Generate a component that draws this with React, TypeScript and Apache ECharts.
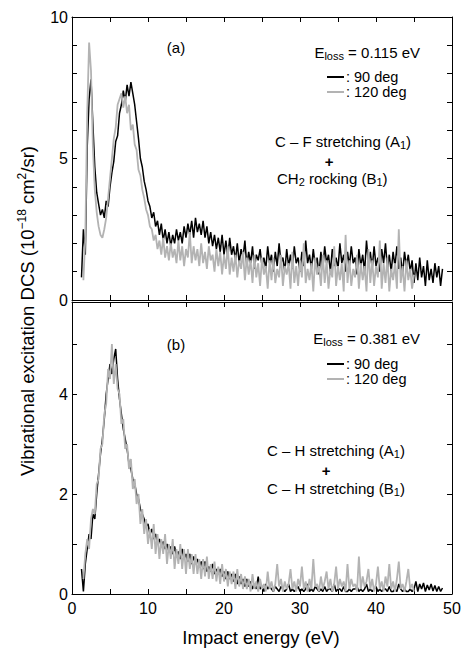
import React, { useEffect, useRef } from 'react';
import * as echarts from 'echarts';

const STEP = 0.25;
const START_90 = 1.25;
const START_120 = 1.5;

// (a) E_loss = 0.115 eV
const TOP_90 = [
  0.8, 2.5, 1.6, 5.4,
  7.1, 7.8, 6.2, 4.7,
  3.8, 3.4, 3.0, 3.2,
  2.9, 3.5, 3.3, 4.0,
  4.5, 4.9, 5.6, 5.8,
  6.6, 6.9, 7.4, 7.0,
  7.6, 7.2, 7.7, 7.3,
  6.9, 6.3, 5.7, 5.0,
  4.7, 4.2, 3.9, 3.5,
  3.3, 2.9, 3.1, 2.6,
  2.8, 2.3, 2.7, 2.1,
  2.5, 2.0, 2.4, 1.9,
  2.3, 2.0, 2.5, 2.1,
  2.4, 2.0, 2.6, 2.2,
  2.7, 2.3, 2.8, 2.2,
  2.9, 2.4, 2.7, 2.3,
  2.8, 2.2, 2.6, 2.0,
  2.4, 1.9, 2.3, 1.8,
  2.2, 1.7, 2.3, 1.6,
  2.1, 1.5, 2.2, 1.6,
  1.9, 1.4, 2.0, 1.3,
  1.8, 1.5, 2.1, 1.2,
  1.7, 1.3, 1.9, 1.1,
  1.6, 1.4, 1.8, 1.2,
  1.5, 1.1, 1.9, 1.3,
  1.6, 1.0, 1.7, 1.2,
  2.0, 1.3, 1.5, 1.0,
  1.8, 1.2, 1.6, 1.1,
  1.9, 1.3, 1.5, 1.0,
  1.7, 1.2, 2.1, 1.3,
  1.6, 1.1, 1.8, 1.2,
  1.5, 0.9, 1.7, 1.1,
  1.9, 1.3, 1.6, 1.0,
  1.8, 1.2, 1.5, 1.1,
  2.0, 1.3, 1.6, 1.0,
  1.7, 1.2, 1.9, 1.3,
  1.5, 0.9, 1.8, 1.2,
  1.6, 1.0, 2.1, 1.3,
  1.7, 1.1, 1.9, 1.2,
  1.5, 1.0, 1.8, 1.3,
  2.0, 1.1, 1.6, 1.0,
  1.7, 1.2, 1.9, 1.1,
  1.5, 0.9, 1.7, 1.2,
  1.6, 1.0, 1.4, 0.6,
  1.3, 0.7, 1.5, 0.8,
  1.2, 0.5, 1.4, 0.7,
  1.1, 0.6, 1.3, 0.8,
  1.2, 0.5, 1.1,
];

const TOP_120 = [
  0.7, 2.2, 6.6,
  9.1, 8.1, 5.4, 3.9,
  3.1, 2.6, 2.3, 2.2,
  2.5, 2.9, 3.6, 4.3,
  5.0, 5.7, 6.1, 6.9,
  7.1, 7.3, 6.8, 7.2,
  6.6, 6.9, 6.0, 6.2,
  5.5, 5.3, 4.6, 4.4,
  3.9, 3.6, 3.2, 3.0,
  2.6, 2.5, 2.1, 2.3,
  1.8, 2.1, 1.6, 2.2,
  1.5, 1.9, 1.4, 2.0,
  1.5, 1.8, 1.3, 2.1,
  1.4, 1.9, 1.2, 1.8,
  1.5, 2.4, 1.3, 1.9,
  1.4, 1.8, 1.2, 2.0,
  1.3, 1.7, 1.1, 1.9,
  1.4, 1.6, 1.0, 1.8,
  1.2, 1.7, 0.9, 1.6,
  1.1, 1.9, 0.9, 1.5,
  1.0, 1.6, 0.8, 1.4,
  1.1, 1.7, 0.7, 1.5,
  0.9, 1.4, 0.6, 1.6,
  0.8, 1.3, 0.5, 1.5,
  0.9, 1.2, 0.4, 1.4,
  0.7, 1.5, 0.6, 1.1,
  0.8, 1.6, 0.5, 1.2,
  0.9, 1.3, 0.4, 1.7,
  0.6, 1.2, 0.5, 1.4,
  0.8, 2.0, 0.6, 1.1,
  0.7, 1.3, 0.3, 1.5,
  0.9, 1.2, 0.5, 1.6,
  0.6, 1.4, 0.4, 1.1,
  0.8, 1.9, 0.5, 1.2,
  0.7, 1.3, 0.3, 2.3,
  0.6, 1.4, 0.5, 1.1,
  0.8, 1.6, 0.4, 1.3,
  0.7, 1.2, 0.3, 1.8,
  0.6, 1.4, 0.5, 1.2,
  0.8, 2.1, 0.4, 1.3,
  0.6, 1.5, 0.3, 1.1,
  0.7, 1.3, 0.4, 2.5,
  0.6, 1.2, 0.3, 1.4,
  0.7, 1.1, 0.4, 0.9,
];

// (b) E_loss = 0.381 eV
const BOT_90 = [
  0.5, 0.05, 0.6, 0.9,
  1.2, 1.1, 1.6, 1.5,
  2.0, 2.4, 2.8, 3.1,
  3.5, 4.0, 4.3, 4.6,
  4.4, 4.7, 4.9, 4.3,
  3.9, 3.6, 3.3, 3.1,
  2.9, 2.6, 2.5, 2.3,
  2.2, 2.0, 1.9, 1.7,
  1.6, 1.5, 1.35, 1.4,
  1.2, 1.3, 1.1, 1.2,
  1.0, 1.1, 0.95, 1.05,
  0.9, 1.0, 0.85, 0.95,
  0.8, 0.95, 0.75, 0.85,
  0.7, 0.9, 0.7, 0.8,
  0.65, 0.8, 0.6, 0.75,
  0.6, 0.7, 0.55, 0.65,
  0.5, 0.65, 0.45, 0.55,
  0.45, 0.6, 0.4, 0.5,
  0.4, 0.5, 0.35, 0.45,
  0.3, 0.45, 0.3, 0.4,
  0.25, 0.4, 0.2, 0.35,
  0.2, 0.3, 0.15, 0.3,
  0.15, 0.25, 0.1, 0.2,
  0.1, 0.35, 0.1, 0.15,
  0.05, 0.2, 0.1, 0.15,
  0.1, 0.05, 0.15, 0.1,
  0.05, 0.15, 0.1, 0.05,
  0.1, 0.2, 0.05, 0.1,
  0.05, 0.1, 0.15, 0.05,
  0.1, 0.05, 0.1, 0.2,
  0.05, 0.1, 0.05, 0.15,
  0.1, 0.05, 0.1, 0.05,
  0.15, 0.05, 0.1, 0.1,
  0.05, 0.2, 0.05, 0.1,
  0.1, 0.05, 0.15, 0.05,
  0.05, 0.1, 0.05, 0.1,
  0.1, 0.15, 0.05, 0.1,
  0.05, 0.1, 0.2, 0.05,
  0.1, 0.05, 0.1, 0.15,
  0.05, 0.1, 0.05, 0.1,
  0.1, 0.05, 0.15, 0.05,
  0.05, 0.1, 0.05, 0.2,
  0.1, 0.05, 0.1, 0.05,
  0.05, 0.1, 0.05, 0.1,
  0.25, 0.05, 0.2, 0.1,
  0.22, 0.05, 0.18, 0.08,
  0.2, 0.06, 0.17, 0.05,
  0.15, 0.05, 0.12,
];

const BOT_120 = [
  0.3, 0.8, 1.1,
  0.9, 1.5, 1.7, 1.6,
  2.2, 2.3, 2.9, 3.0,
  3.6, 3.8, 4.5, 4.3,
  5.0, 4.2, 4.6, 4.1,
  4.0, 3.4, 3.5, 2.9,
  3.0, 2.5, 2.7, 2.1,
  2.3, 1.8, 2.0, 1.4,
  1.7, 1.2, 1.5, 1.0,
  1.3, 0.9, 1.4, 0.8,
  1.2, 0.7, 1.1, 0.8,
  1.2, 0.6, 1.0, 0.7,
  1.1, 0.5, 0.9, 0.6,
  1.0, 0.5, 0.9, 0.4,
  0.9, 0.5, 0.8, 0.4,
  0.8, 0.4, 0.7, 0.3,
  0.7, 0.35, 0.75, 0.3,
  0.6, 0.3, 0.65, 0.25,
  0.55, 0.2, 0.6, 0.25,
  0.5, 0.15, 0.45, 0.2,
  0.45, 0.1, 0.5, 0.15,
  0.4, 0.1, 0.35, 0.1,
  0.3, 0.05, 0.4, 0.1,
  0.25, 0.05, 0.3, 0.1,
  0.2, 0.05, 0.45, 0.1,
  0.25, 0.05, 0.2, 0.6,
  0.15, 0.3, 0.05, 0.25,
  0.1, 0.2, 0.5, 0.1,
  0.25, 0.05, 0.3, 0.15,
  0.55, 0.1, 0.25, 0.05,
  0.3, 0.1, 0.7, 0.15,
  0.2, 0.05, 0.35, 0.1,
  0.25, 0.45, 0.1, 0.3,
  0.05, 0.2, 0.55, 0.1,
  0.3, 0.15, 0.25, 0.05,
  0.6, 0.1, 0.3, 0.15,
  0.2, 0.05, 0.75, 0.1,
  0.35, 0.15, 0.25, 0.5,
  0.1, 0.3, 0.05, 0.2,
  0.55, 0.1, 0.25, 0.05,
  0.35, 0.15, 0.6, 0.1,
  0.25, 0.05, 0.3, 0.65,
  0.1, 0.2, 0.05, 0.25,
  0.5, 0.1, 0.2, 0.05,
];

const X_MIN = 0;
const X_MAX = 50;
const TOP_Y_MAX = 10;
const BOT_Y_MAX = 5.84;

const FONT = 'Liberation Sans, Arial, Helvetica, sans-serif';
const BLACK = '#000000';
const GRAY = '#b3b3b3';

const toPairs = (start: number, vals: number[]) =>
  vals.map((v, i) => [Number((start + i * STEP).toFixed(2)), v]);

function xAxis(gridIndex: number, position: 'top' | 'bottom', labels: boolean) {
  return {
    type: 'value',
    gridIndex,
    position,
    min: X_MIN,
    max: X_MAX,
    interval: 5,
    axisLine: { show: true, onZero: false, lineStyle: { color: BLACK, width: 1 } },
    axisTick: { show: true, inside: true, length: 5, lineStyle: { color: BLACK } },
    axisLabel: {
      show: labels,
      color: BLACK,
      fontSize: 16,
      fontFamily: FONT,
      margin: 6,
      formatter: (v: number) => (v % 10 === 0 ? String(v) : ''),
    },
    splitLine: { show: false },
  };
}

function yAxis(gridIndex: number, position: 'left' | 'right', max: number, every: number, labels: boolean) {
  return {
    type: 'value',
    gridIndex,
    position,
    min: 0,
    max,
    interval: 1,
    axisLine: { show: true, onZero: false, lineStyle: { color: BLACK, width: 1 } },
    axisTick: { show: true, inside: true, length: 5, lineStyle: { color: BLACK } },
    axisLabel: {
      show: labels,
      color: BLACK,
      fontSize: 16,
      fontFamily: FONT,
      margin: 4,
      showMaxLabel: max === Math.round(max),
      formatter: (v: number) => (Number.isInteger(v) && v % every === 0 ? String(v) : ''),
    },
    splitLine: { show: false },
  };
}

function txt(x: number, y: number, text: string, opts: any = {}) {
  const align = opts.align || 'left';
  return {
    type: 'text',
    x,
    y,
    rotation: opts.rotation || 0,
    style: {
      text,
      font: `${opts.bold ? 'bold ' : ''}${opts.size || 15}px ${FONT}`,
      fill: BLACK,
      align,
      textAlign: align,
      verticalAlign: 'middle',
      textVerticalAlign: 'middle',
      lineHeight: opts.lineHeight || 18,
      rich: {
        sub: { fontSize: 11, fontFamily: FONT, lineHeight: 11, padding: [8, 0, 0, 0] },
        sup: { fontSize: 12, fontFamily: FONT, lineHeight: 12, padding: [0, 0, 10, 0] },
      },
    },
  };
}

function legendLine(x1: number, x2: number, y: number, color: string) {
  return {
    type: 'line',
    shape: { x1, y1: y, x2, y2: y },
    style: { stroke: color, lineWidth: 2 },
  };
}

export default function App() {
  const ref = useRef<HTMLDivElement>(null);

  useEffect(() => {
    if (!ref.current) return;
    const chart = echarts.init(ref.current, null, { renderer: 'svg' });
    const lineSeries = (name: string, idx: number, data: number[][], color: string, width: number) => ({
      name,
      type: 'line',
      xAxisIndex: idx,
      yAxisIndex: idx,
      data,
      showSymbol: false,
      symbol: 'none',
      clip: true,
      lineStyle: { color, width },
      emphasis: { disabled: true },
    });

    chart.setOption({
      animation: false,
      backgroundColor: '#ffffff',
      grid: [
        { left: 72, top: 17, width: 380, height: 283 },
        { left: 72, top: 302, width: 380, height: 292 },
      ],
      xAxis: [
        xAxis(0, 'bottom', false),
        xAxis(0, 'top', false),
        xAxis(1, 'bottom', true),
        xAxis(1, 'top', false),
      ],
      yAxis: [
        yAxis(0, 'left', TOP_Y_MAX, 5, true),
        yAxis(0, 'right', TOP_Y_MAX, 5, false),
        yAxis(1, 'left', BOT_Y_MAX, 2, true),
        yAxis(1, 'right', BOT_Y_MAX, 2, false),
      ],
      series: [
        lineSeries('90 deg (a)', 0, toPairs(START_90, TOP_90), BLACK, 1.5),
        lineSeries('120 deg (a)', 0, toPairs(START_120, TOP_120), GRAY, 1.8),
        lineSeries('90 deg (b)', 2, toPairs(START_90, BOT_90), BLACK, 1.5),
        lineSeries('120 deg (b)', 2, toPairs(START_120, BOT_120), GRAY, 1.8),
      ],
      graphic: [
        txt(27, 311, 'Vibrational excitation DCS (10{sup|−18} cm{sup|2}/sr)', { size: 18.5, align: 'center', rotation: Math.PI / 2, lineHeight: 22 }),
        txt(261, 637, 'Impact energy (eV)', { size: 18.5, align: 'center', lineHeight: 20 }),
        // panel (a)
        txt(176, 47, '(a)', { align: 'center' }),
        txt(420, 52, 'E{sub|loss} = 0.115 eV', { align: 'right' }),
        legendLine(327, 344, 77, BLACK),
        txt(346, 77, ': 90 deg', { size: 14.5, lineHeight: 14 }),
        legendLine(327, 344, 92, GRAY),
        txt(346, 92, ': 120 deg', { size: 14.5, lineHeight: 14 }),
        txt(343, 141, 'C – F stretching (A{sub|1})', { align: 'center' }),
        txt(329, 161, '+', { align: 'center', bold: true, size: 15, lineHeight: 12 }),
        txt(277, 178, 'CH{sub|2} rocking (B{sub|1})'),
        // panel (b)
        txt(176, 344, '(b)', { align: 'center' }),
        txt(420, 338, 'E{sub|loss} = 0.381 eV', { align: 'right' }),
        legendLine(327, 344, 364, BLACK),
        txt(346, 364, ': 90 deg', { size: 14.5, lineHeight: 14 }),
        legendLine(327, 344, 379, GRAY),
        txt(346, 379, ': 120 deg', { size: 14.5, lineHeight: 14 }),
        txt(336, 450, 'C – H stretching (A{sub|1})', { align: 'center' }),
        txt(326, 470, '+', { align: 'center', bold: true, size: 15, lineHeight: 12 }),
        txt(336, 488, 'C – H stretching (B{sub|1})', { align: 'center' }),
      ],
    });
    return () => chart.dispose();
  }, []);

  return (
    <div
      ref={ref}
      style={{ position: 'fixed', left: 0, top: 0, width: 464, height: 648, background: '#fff' }}
    />
  );
}
